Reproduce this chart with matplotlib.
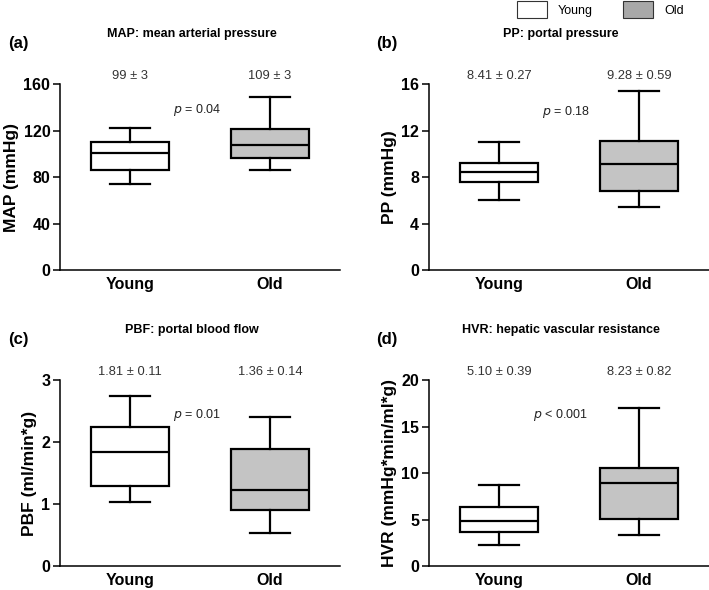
import matplotlib
matplotlib.use("Agg")
import matplotlib.pyplot as plt
from matplotlib.patches import Patch

plt.rcParams["font.family"] = ["Liberation Sans", "DejaVu Sans"]

# ---------------------------------------------------------------------------
# Data (whisker low, Q1, median, Q3, whisker high)
# ---------------------------------------------------------------------------
groups = ["Young", "Old"]

map_young = [73.7, 86.3, 100.4, 110.4, 122.0]
map_old = [86.0, 96.6, 107.2, 121.0, 148.5]

pp_young = [6.0, 7.54, 8.43, 9.23, 11.0]
pp_old = [5.39, 6.8, 9.12, 11.1, 15.42]

pbf_young = [1.03, 1.29, 1.84, 2.25, 2.74]
pbf_old = [0.53, 0.91, 1.22, 1.89, 2.41]

hvr_young = [2.26, 3.62, 4.87, 6.38, 8.71]
hvr_old = [3.3, 5.02, 8.96, 10.5, 16.95]

mean_se_labels = {
    "a": ["99 \u00b1 3", "109 \u00b1 3"],
    "b": ["8.41 \u00b1 0.27", "9.28 \u00b1 0.59"],
    "c": ["1.81 \u00b1 0.11", "1.36 \u00b1 0.14"],
    "d": ["5.10 \u00b1 0.39", "8.23 \u00b1 0.82"],
}
p_labels = {"a": "= 0.04", "b": "= 0.18", "c": "= 0.01", "d": "< 0.001"}

PANELS = [
    # key, title, ylabel, young, old, ymax, ticks, p_xy
    ("a", "MAP: mean arterial pressure", "MAP (mmHg)", map_young, map_old,
     160, [0, 40, 80, 120, 160], (0.98, 138)),
    ("b", "PP: portal pressure", "PP (mmHg)", pp_young, pp_old,
     16, [0, 4, 8, 12, 16], (0.98, 13.6)),
    ("c", "PBF: portal blood flow", "PBF (ml/min*g)", pbf_young, pbf_old,
     3, [0, 1, 2, 3], (0.98, 2.44)),
    ("d", "HVR: hepatic vascular resistance", "HVR (mmHg*min/ml*g)",
     hvr_young, hvr_old, 20, [0, 5, 10, 15, 20], (0.94, 16.2)),
]

FILL = {"Young": "#ffffff", "Old": "#c4c4c4"}
AX_POS = {
    "a": [0.0846, 0.5424, 0.395, 0.315],
    "b": [0.605, 0.5424, 0.395, 0.315],
    "c": [0.0846, 0.0407, 0.395, 0.315],
    "d": [0.605, 0.0407, 0.395, 0.315],
}


def stats(vals, label):
    lo, q1, med, q3, hi = vals
    return {"whislo": lo, "q1": q1, "med": med, "q3": q3, "whishi": hi,
            "fliers": [], "label": label}


fig = plt.figure(figsize=(7.09, 5.90), dpi=100)

for key, title, ylabel, young, old, ymax, ticks, p_xy in PANELS:
    ax = fig.add_axes(AX_POS[key])
    positions = [0.5, 1.5]
    bp = ax.bxp([stats(young, "Young"), stats(old, "Old")],
                positions=positions, widths=0.56, patch_artist=True,
                showfliers=False,
                boxprops=dict(linewidth=1.6, edgecolor="black"),
                medianprops=dict(linewidth=1.6, color="black"),
                whiskerprops=dict(linewidth=1.6, color="black"),
                capprops=dict(linewidth=1.6, color="black"),
                capwidths=0.28)
    for patch, g in zip(bp["boxes"], groups):
        patch.set_facecolor(FILL[g])

    ax.set_xlim(0, 2)
    ax.set_ylim(0, ymax)
    ax.set_yticks(ticks)
    ax.set_xticks(positions)
    ax.set_xticklabels(groups, fontsize=11.5, fontweight="bold")
    ax.tick_params(axis="x", length=0, pad=5)
    ax.tick_params(axis="y", length=5, width=1.1, labelsize=11.5, pad=2)
    for lab in ax.get_yticklabels():
        lab.set_fontweight("bold")
    for sp in ("top", "right"):
        ax.spines[sp].set_visible(False)
    for sp in ("left", "bottom"):
        ax.spines[sp].set_linewidth(1.1)
    ax.set_ylabel(ylabel, fontsize=12.5, fontweight="bold", labelpad=3)

    # mean +/- SE above each box
    for x, txt in zip(positions, mean_se_labels[key]):
        ax.text(x, ymax * 1.045, txt, ha="center", va="center",
                fontsize=9.3, color="#333333", clip_on=False)

    ax.text(p_xy[0], p_xy[1], f"$p$ {p_labels[key]}", ha="center",
            va="center", fontsize=9, color="#222222")

    ax.text(0.47, 1.27, title, transform=ax.transAxes, ha="center",
            va="center", fontsize=9, fontweight="bold")
    ax.text(-0.15, 1.22, f"({key})", transform=ax.transAxes, ha="center",
            va="center", fontsize=12, fontweight="bold")

handles = [Patch(facecolor="#ffffff", edgecolor="#333333", linewidth=0.8),
           Patch(facecolor="#a8a8a8", edgecolor="#333333", linewidth=0.8)]
fig.legend(handles, groups, loc="upper left", bbox_to_anchor=(0.713, 1.017),
           ncol=2, frameon=False, fontsize=9, handlelength=2.4,
           handleheight=1.7, columnspacing=2.4, handletextpad=0.9)

fig.savefig("out.png", dpi=100)
